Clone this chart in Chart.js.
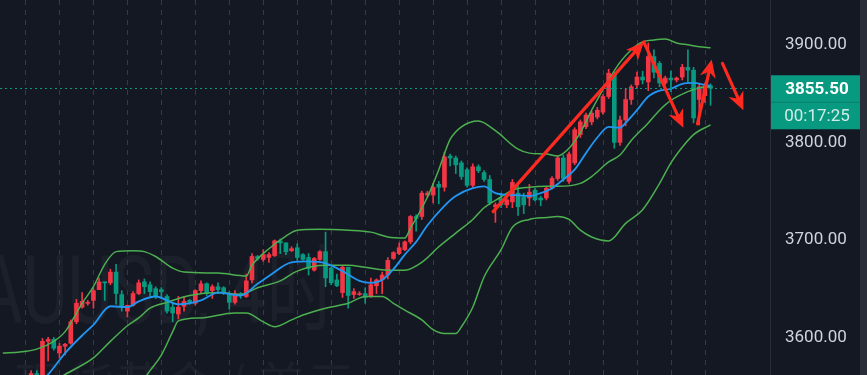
<!DOCTYPE html>
<html>
<head>
<meta charset="utf-8">
<script src="https://cdn.jsdelivr.net/npm/chart.js@4.4.1/dist/chart.umd.min.js"></script>
<style>
html,body{margin:0;padding:0;background:#141823;}
#wrap{width:867px;height:375px;}
</style>
</head>
<body>
<div id="wrap"><canvas id="chart" width="867" height="375"></canvas></div>
<script>
var UP = '#f23645', DOWN = '#089981';

// 4H candles, oldest first
var opens = [3540,3545,3550,3547,3555,3552,3563,3558,3596,3598,3584,3591,3594,3616,3631,3635,3638,3649,3657,3656,
  3667,3644,3627,3633,3645,3657,3654,3650,3649,3642,3631,3624,3632,3638,3635,3648,3655,3648,3652,3651,
  3645,3636,3645,3642,3659,3683,3680,3682,3684,3699,3697,3689,3692,3685,3682,3669,3680,3688,3671,3659,
  3646,3672,3644,3644,3645,3642,3653,3659,3664,3681,3686,3690,3698,3724,3724,3746,3746,3757,3754,3786,
  3784,3779,3772,3756,3775,3769,3762,3734,3742,3736,3739,3748,3744,3743,3751,3743,3743,3753,3763,3784,
  3760,3779,3808,3816,3821,3826,3831,3847,3869,3800,3823,3844,3859,3867,3862,3888,3881,3861,3866,3864,
  3867,3877,3874,3844,3848,3858];
var highs = [3548,3552,3553,3558,3558,3566,3566,3599,3600,3600,3594,3594,3618,3639,3646,3638,3651,3661,3657,3670,
  3675,3648,3633,3647,3659,3660,3657,3652,3651,3644,3636,3642,3642,3639,3649,3658,3656,3654,3656,3652,
  3647,3648,3646,3665,3686,3684,3690,3687,3700,3701,3697,3693,3696,3686,3686,3682,3689,3708,3672,3665,
  3674,3672,3650,3647,3651,3661,3660,3667,3682,3688,3697,3699,3725,3726,3750,3750,3758,3760,3790,3788,
  3786,3781,3774,3778,3777,3771,3766,3738,3748,3744,3762,3757,3748,3757,3753,3745,3755,3765,3786,3787,
  3790,3815,3823,3830,3832,3836,3849,3875,3872,3827,3855,3859,3872,3873,3902,3895,3883,3868,3873,3867,
  3880,3895,3877,3860,3861,3860];
var lows = [3535,3540,3543,3544,3549,3550,3555,3556,3576,3587,3579,3582,3593,3614,3630,3633,3630,3649,3638,3654,
  3634,3627,3621,3632,3644,3645,3642,3640,3641,3625,3616,3619,3627,3634,3633,3645,3643,3640,3645,3644,
  3629,3634,3640,3641,3656,3679,3678,3677,3683,3686,3685,3688,3679,3679,3664,3668,3679,3652,3654,3652,
  3641,3630,3640,3643,3635,3641,3645,3645,3660,3680,3685,3689,3696,3709,3721,3744,3738,3737,3750,3776,
  3768,3762,3754,3754,3769,3760,3736,3718,3733,3733,3733,3725,3727,3735,3740,3735,3741,3752,3761,3760,
  3758,3777,3805,3814,3818,3824,3829,3845,3794,3797,3817,3839,3855,3860,3853,3866,3857,3859,3852,3862,
  3864,3862,3820,3818,3841,3838];
var closes = [3545,3550,3547,3555,3552,3563,3558,3596,3598,3589,3591,3593,3616,3635,3637,3636,3648,3657,3656,3667,
  3645,3631,3633,3645,3656,3652,3647,3642,3647,3627,3625,3631,3637,3636,3648,3655,3645,3652,3649,3645,
  3636,3645,3643,3658,3683,3681,3685,3685,3699,3697,3688,3691,3682,3680,3671,3681,3688,3661,3656,3653,
  3672,3643,3647,3645,3641,3654,3659,3664,3679,3687,3692,3698,3724,3722,3748,3748,3754,3754,3785,3784,
  3777,3765,3756,3775,3771,3762,3738,3736,3736,3741,3759,3734,3736,3749,3741,3741,3753,3763,3784,3763,
  3788,3813,3821,3828,3830,3833,3847,3871,3800,3823,3844,3857,3867,3864,3888,3872,3861,3866,3864,3866,
  3877,3874,3825,3857,3858,3855.5];

// indicator lines: [candle index, price]
var bbUpper = [[0,3584],[3,3585],[6,3588],[9,3596],[11,3606],[14,3635],[16,3652],[18,3675],[20,3688],[23,3689],
  [25,3688],[27,3683],[30,3671],[32,3667],[38,3666],[43,3663],[44,3674],[47,3691],[50,3704],[52,3710],[56,3711],
  [61,3710],[65,3708],[68,3703],[71,3702],[72,3712],[75,3744],[77,3772],[79,3803],[81,3816],[84,3822],[87,3812],
  [91,3793],[93,3789],[96,3788],[98,3786],[100,3794],[102,3810],[104,3833],[107,3864],[109,3882],[111,3895],
  [113,3903],[115,3905],[117,3906],[119,3902],[121,3900],[123,3898],[125,3897]];
var bbMiddle = [[0,3530],[5,3540],[11,3562],[16,3579],[19,3596],[22,3612],[24,3620],[26,3630],[29,3636],[33,3643],
  [38,3646],[42,3644],[45,3651],[49,3658],[52,3668],[57,3674],[61,3674],[64,3672],[68,3669],[71,3669],[74,3677],
  [77,3693],[80,3707],[83,3721],[85,3733],[88,3744],[90,3751],[93,3754],[96,3755],[98,3755],[102,3758],[104,3765],
  [107,3780],[109,3787],[111,3802],[114,3820],[116,3833],[118,3843],[121,3852],[123,3856],[125,3857]];
var bbLower = [[20,3530],[24,3550],[26,3566],[28,3582],[30,3606],[31,3617],[35,3620],[41,3625],[43,3625],[46,3616],
  [48,3611],[51,3618],[53,3623],[57,3630],[61,3635],[64,3642],[67,3642],[69,3635],[71,3628],[74,3618],[76,3608],
  [78,3604],[80,3604],[81,3611],[83,3631],[85,3662],[88,3690],[90,3713],[93,3721],[96,3723],[98,3724],[100,3721],
  [102,3710],[104,3703],[107,3699],[110,3717],[113,3731],[116,3758],[118,3779],[120,3795],[122,3808],[125,3818]];
var maLine = [[4,3540],[8,3562],[11,3584],[14,3602],[16,3613],[19,3632],[22,3631],[24,3637],[27,3642],[31,3634],
  [35,3638],[38,3646],[42,3643],[45,3655],[47,3663],[51,3677],[54,3678],[57,3676],[60,3668],[63,3658],[65,3656],
  [67,3659],[69,3670],[71,3685],[73,3698],[75,3715],[78,3735],[80,3745],[83,3753],[85,3755],[87,3748],[90,3746],
  [93,3745],[95,3748],[97,3753],[99,3762],[101,3772],[103,3789],[105,3805],[107,3816],[109,3815],[110,3820],
  [112,3833],[114,3847],[116,3853],[118,3855],[120,3860],[122,3861],[124,3859],[125,3858]];

var priceTicks = [3600, 3700, 3800, 3900];
var lastPrice = 3855.5;
var countdown = '00:17:25';

// hand-drawn arrows: [from index, from price, to index, to price]
var arrows = [[86.6,3729,113.2,3903],[113.2,3903,120.2,3815],[122.7,3819,125.2,3885],[127.1,3881,130.8,3833]];

function pts(arr){ return arr.map(function(p){ return {x:p[0], y:p[1]}; }); }
var candleColors = opens.map(function(o,i){ return closes[i] >= o ? UP : DOWN; });

function lineDs(data, color, w){
  return {type:'line', data:pts(data), borderColor:color, borderWidth:w, pointRadius:0,
    cubicInterpolationMode:'monotone', fill:false};
}

var tvPlugin = {
  id:'tv',
  beforeDraw:function(chart){
    var ctx = chart.ctx;
    ctx.save();
    ctx.fillStyle = '#141823';
    ctx.fillRect(0,0,chart.width,chart.height);
    ctx.fillStyle = '#2a2e39';
    ctx.fillRect(860,0,7,chart.height);
    ctx.restore();
  },
  beforeDatasetsDraw:function(chart){
    var ctx = chart.ctx, xs = chart.scales.x, a = chart.chartArea;
    ctx.save();
    // watermark (symbol + interval, description below)
    ctx.fillStyle = 'rgba(255,255,255,0.035)';
    ctx.textBaseline = 'alphabetic';
    ctx.save();
    ctx.font = '94px Roboto, "Noto Sans CJK SC"';
    ctx.scale(0.74, 1);
    var lead = ctx.measureText('XA').width;
    ctx.fillText('XAUUSD, 4时', 23 / 0.74 - lead, 323);
    ctx.restore();
    ctx.font = '50px "Noto Sans CJK SC"';
    ctx.fillText('现货黄金 / 美元', 14, 404);
    // day separators
    ctx.strokeStyle = '#363a45';
    ctx.lineWidth = 1;
    ctx.setLineDash([5,5]);
    for (var i = 4; i < opens.length; i += 6) {
      var x = Math.round(xs.getPixelForValue(i)) + 0.5;
      ctx.beginPath(); ctx.moveTo(x, a.top); ctx.lineTo(x, a.bottom); ctx.stroke();
    }
    ctx.restore();
  },
  afterDatasetsDraw:function(chart){
    var ctx = chart.ctx, xs = chart.scales.x, ys = chart.scales.y, a = chart.chartArea;
    ctx.save();
    var py = Math.round(ys.getPixelForValue(lastPrice)) + 0.5;
    ctx.strokeStyle = DOWN; ctx.lineWidth = 1; ctx.setLineDash([2,3]);
    ctx.beginPath(); ctx.moveTo(a.left, py); ctx.lineTo(a.right, py); ctx.stroke();
    ctx.setLineDash([]);
    ctx.strokeStyle = '#ff2a1f'; ctx.fillStyle = '#ff2a1f'; ctx.lineWidth = 3.2; ctx.lineCap = 'round';
    arrows.forEach(function(ar){
      var x1 = xs.getPixelForValue(ar[0]), y1 = ys.getPixelForValue(ar[1]);
      var x2 = xs.getPixelForValue(ar[2]), y2 = ys.getPixelForValue(ar[3]);
      var ang = Math.atan2(y2-y1, x2-x1), hl = 18, hw = 8;
      var c = Math.cos(ang), s = Math.sin(ang);
      var bx = x2 - c*hl, by = y2 - s*hl;
      var nx = x2 - c*hl*0.7, ny = y2 - s*hl*0.7;
      ctx.beginPath(); ctx.moveTo(x1,y1); ctx.lineTo(nx,ny); ctx.stroke();
      ctx.beginPath();
      ctx.moveTo(x2,y2);
      ctx.lineTo(bx + s*hw, by - c*hw);
      ctx.lineTo(nx, ny);
      ctx.lineTo(bx - s*hw, by + c*hw);
      ctx.closePath(); ctx.fill();
    });
    ctx.restore();
  },
  afterDraw:function(chart){
    var ctx = chart.ctx, ys = chart.scales.y, a = chart.chartArea;
    var py = ys.getPixelForValue(lastPrice);
    ctx.save();
    ctx.fillStyle = DOWN;
    ctx.fillRect(a.right + 1, py - 13, 89, 54);
    ctx.fillStyle = 'rgba(0,0,0,0.18)';
    ctx.fillRect(a.right + 1, py + 13.5, 89, 1);
    ctx.textAlign = 'center'; ctx.textBaseline = 'middle';
    ctx.fillStyle = '#ffffff';
    ctx.font = 'bold 17px Roboto';
    ctx.fillText(lastPrice.toFixed(2), a.right + 47, py + 1);
    ctx.fillStyle = 'rgba(255,255,255,0.82)';
    ctx.font = '17px Roboto';
    ctx.fillText(countdown, a.right + 47, py + 28);
    ctx.restore();
  }
};

new Chart(document.getElementById('chart'), {
  type:'bar',
  data:{
    datasets:[
      lineDs(maLine, '#2196f3', 1.8),
      lineDs(bbUpper, '#4caf50', 1.5),
      lineDs(bbMiddle, '#4caf50', 1.5),
      lineDs(bbLower, '#4caf50', 1.5),
      {type:'bar', data:opens.map(function(o,i){ return {x:i, y:[o, closes[i]]}; }),
        backgroundColor:candleColors, barThickness:4, minBarLength:1, grouped:false},
      {type:'bar', data:opens.map(function(o,i){ return {x:i, y:[lows[i], highs[i]]}; }),
        backgroundColor:candleColors, barThickness:1, grouped:false}
    ]
  },
  options:{
    responsive:false, animation:false, devicePixelRatio:1,
    layout:{padding:{left:0, right:7, top:0, bottom:0}},
    plugins:{legend:{display:false}, tooltip:{enabled:false}},
    scales:{
      x:{type:'linear', min:-0.5, max:135.5, offset:false, display:false},
      y:{position:'right', min:3561.5, max:3946,
        afterBuildTicks:function(s){ s.ticks = priceTicks.map(function(v){ return {value:v}; }); },
        afterFit:function(s){ s.width = 90; s.paddingTop = 0; s.paddingBottom = 0; },
        grid:{display:false},
        border:{display:true, color:'#2a2e39'},
        ticks:{color:'#d1d4dc', padding:7, font:{size:17, family:'Roboto'},
          callback:function(v){ return v.toFixed(2); }}
      }
    }
  },
  plugins:[tvPlugin]
});
</script>
</body>
</html>
